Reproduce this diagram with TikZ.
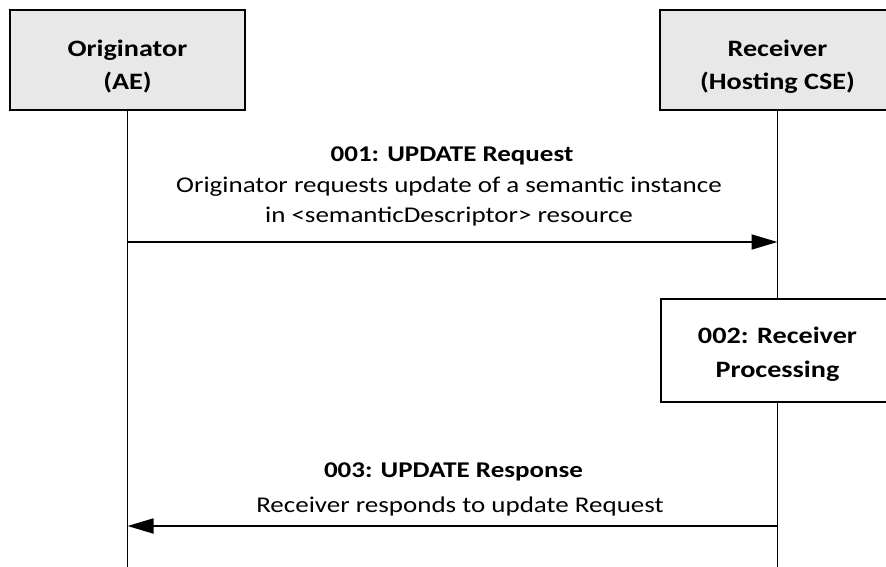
\documentclass[tikz,border=0pt]{standalone}
\usepackage{fontspec}
\setmainfont{Carlito}[FakeStretch=1.2]
\usetikzlibrary{arrows.meta}
\definecolor{boxgray}{HTML}{E8E8E8}
\tikzset{
  actor/.style={draw=black, line width=2pt, fill=boxgray, minimum width=235pt, minimum height=100pt, align=center, inner sep=0pt, font=\fontsize{23.5}{33}\selectfont\bfseries},
  procbox/.style={draw=black, line width=2pt, fill=white, minimum width=234pt, minimum height=103pt, align=center, inner sep=0pt, font=\fontsize{23.5}{34}\selectfont\bfseries},
  life/.style={line width=1.8pt},
  msg/.style={line width=1.8pt, -{Triangle[length=26pt,width=15pt]}},
  title/.style={font=\fontsize{22.5}{29.5}\selectfont\bfseries, inner sep=0pt, anchor=base},
  desc/.style={font=\fontsize{22.5}{29.5}\selectfont, align=center, inner sep=0pt, anchor=base}
}
\begin{document}
\begin{tikzpicture}[x=1pt,y=-1pt]
\useasboundingbox (0,0) rectangle (886,567);
\clip (0,0) rectangle (886,567);
\fill[white] (0,0) rectangle (886,567);
\node[actor] (orig) at (127.5,60) {\rule{0pt}{29pt}Originator\\(AE)};
\node[actor] (recv) at (777.5,60) {\rule{0pt}{29pt}Receiver\\(Hosting CSE)};
\node[procbox] (proc) at (777.5,350.5) {\rule{0pt}{24pt}002: Receiver\\Processing};
\coordinate (oend) at (127.5,567);
\coordinate (rend) at (777.5,567);
\draw[life] (orig.south) -- (oend);
\draw[life] (recv.south) -- (proc.north);
\draw[life] (proc.south) -- (rend);
\coordinate (o1) at (127.5,242);
\coordinate (r1) at (777.5,242);
\coordinate (o2) at (127.5,526);
\coordinate (r2) at (777.5,526);
\draw[msg] (o1) -- (r1);
\draw[msg] (r2) -- (o2);
\node[title] (t1) at (452,161) {001: UPDATE Request};
\node[desc] (d1) at (449,222) {Originator requests update of a semantic instance\\in <semanticDescriptor> resource};
\node[title] (t3) at (453.5,477) {003: UPDATE Response};
\node[desc] (d3) at (460,512) {Receiver responds to update Request};
\end{tikzpicture}
\end{document}
